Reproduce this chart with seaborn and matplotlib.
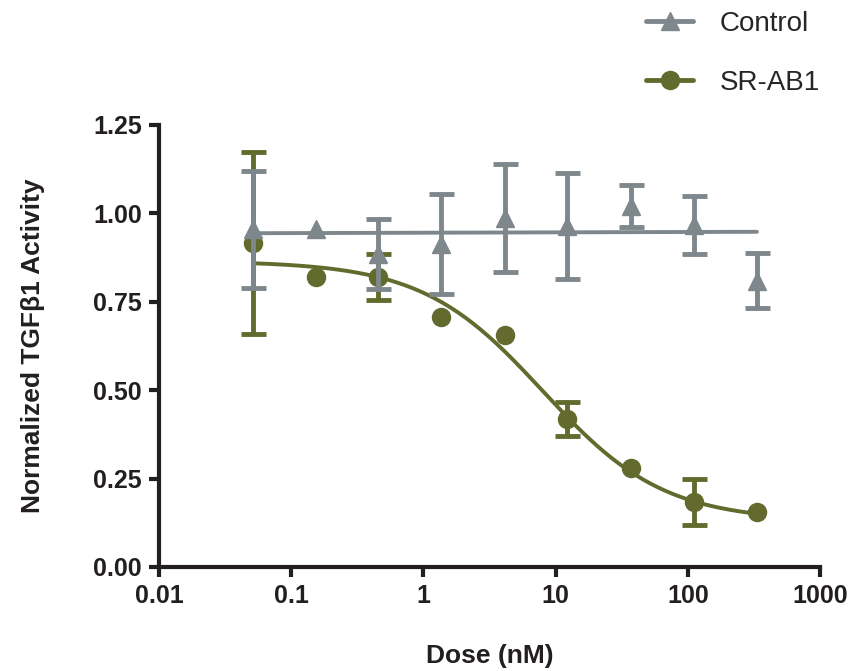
import numpy as np
import pandas as pd
import matplotlib
matplotlib.use('Agg')
import matplotlib.pyplot as plt
import seaborn as sns
from matplotlib.lines import Line2D

sns.set_style('ticks')
plt.rcParams['font.family'] = ['Liberation Sans', 'DejaVu Sans']

# doses (nM), 3-fold dilution
dose = [0.0514, 0.154, 0.457, 1.37, 4.12, 12.3, 37.0, 111.0, 333.0]

# Control: mean and error (0 = no error bar drawn)
control_mean = [0.955, 0.956, 0.885, 0.913, 0.987, 0.964, 1.021, 0.967, 0.810]
control_err = [0.165, 0.0, 0.100, 0.142, 0.153, 0.150, 0.060, 0.083, 0.078]

# SR-AB1: mean and error
srab1_mean = [0.916, 0.820, 0.820, 0.707, 0.656, 0.418, 0.280, 0.184, 0.155]
srab1_err = [0.258, 0.0, 0.065, 0.0, 0.0, 0.048, 0.0, 0.065, 0.0]

# fitted curves
srab1_fit = dict(top=0.865, bottom=0.13, ic50=8.0, hill=0.95)
control_fit_x = [0.0514, 333.0]
control_fit_y = [0.944, 0.948]

gray = '#7e878b'
olive = '#636a2e'
ink = '#231f20'


def draw_points(ax, x, y, err, marker, color, z):
    df = pd.DataFrame({'x': x, 'y': y, 'err': err})
    bars = df[df['err'] > 0]
    ax.errorbar(bars['x'], bars['y'], yerr=bars['err'], fmt='none', ecolor=color,
                elinewidth=3.5, capsize=9, capthick=3.5, zorder=z)
    ax.plot(df['x'], df['y'], marker, color=color, ms=13, ls='none', zorder=z)


fig = plt.figure(figsize=(8.49, 6.71), dpi=100)
ax = fig.add_axes([159 / 849, 1 - 567 / 671, 661 / 849, 442 / 671])

# SR-AB1 fit curve
xs = np.logspace(np.log10(dose[0]), np.log10(dose[-1]), 200)
p = srab1_fit
ys = p['bottom'] + (p['top'] - p['bottom']) / (1 + (xs / p['ic50']) ** p['hill'])
fit_df = pd.DataFrame({'x': xs, 'y': ys})
sns.lineplot(data=fit_df, x='x', y='y', ax=ax, color=olive, lw=2.8, zorder=2)
draw_points(ax, dose, srab1_mean, srab1_err, 'o', olive, 3)

# Control fit line
ctrl_df = pd.DataFrame({'x': control_fit_x, 'y': control_fit_y})
sns.lineplot(data=ctrl_df, x='x', y='y', ax=ax, color=gray, lw=2.8, zorder=4)
draw_points(ax, dose, control_mean, control_err, '^', gray, 5)

ax.set_xscale('log')
ax.set_xlim(0.01, 1000)
ax.set_ylim(0, 1.25)
ax.set_xticks([0.01, 0.1, 1, 10, 100, 1000])
ax.set_xticklabels(['0.01', '0.1', '1', '10', '100', '1000'])
ax.minorticks_off()
ax.set_yticks([0, 0.25, 0.5, 0.75, 1.0, 1.25])
ax.set_yticklabels(['0.00', '0.25', '0.50', '0.75', '1.00', '1.25'])

for s in ['top', 'right']:
    ax.spines[s].set_visible(False)
for s in ['left', 'bottom']:
    ax.spines[s].set_linewidth(3)
    ax.spines[s].set_color(ink)
ax.tick_params(axis='both', width=3, length=7.5, color=ink, labelsize=18,
               labelcolor=ink, pad=5)
for lab in ax.get_xticklabels() + ax.get_yticklabels():
    lab.set_fontweight('bold')

ax.set_xlabel('Dose (nM)', fontsize=19, fontweight='bold', color=ink)
ax.set_ylabel('Normalized TGF\u03b21 Activity', fontsize=19, fontweight='bold',
              color=ink)
ax.xaxis.set_label_coords(0.5, -0.175)
ax.yaxis.set_label_coords(-0.172, 0.5)

handles = [
    Line2D([], [], color=gray, marker='^', ms=13, lw=3.5),
    Line2D([], [], color=olive, marker='o', ms=13, lw=3.5),
]
fig.legend(handles, ['Control', 'SR-AB1'], loc='upper left',
           bbox_to_anchor=(646 / 849, 1 - 11 / 671), frameon=False, fontsize=20,
           handlelength=1.7, labelspacing=1.18, handletextpad=0.95,
           borderpad=0, borderaxespad=0)

fig.savefig('out.png', dpi=100)
